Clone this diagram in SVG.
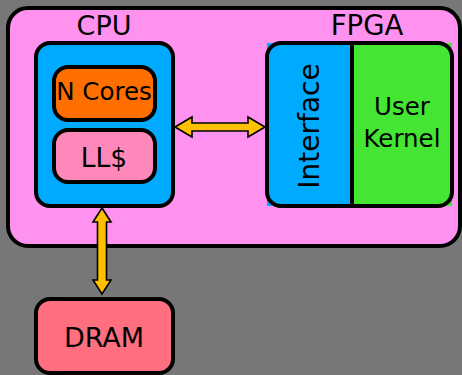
<svg xmlns="http://www.w3.org/2000/svg" width="462" height="375" viewBox="0 0 462 375">
  <style>
    .box { stroke: #000; stroke-width: 4; }
    .lbl { font-family: "DejaVu Sans", sans-serif; fill: #000; text-anchor: middle; }
    .arrow { fill: #ffc000; stroke: #000; stroke-width: 1.6; stroke-linejoin: miter; }
  </style>
  <rect x="0" y="0" width="462" height="375" fill="#777777"/>

  <g id="system">
    <rect class="box" x="8" y="8" width="452" height="238" rx="20" fill="#ff91ef"/>
    <text class="lbl" x="104" y="35" font-size="27">CPU</text>
    <text class="lbl" x="367" y="35" font-size="27.5">FPGA</text>
  </g>

  <g id="cpu">
    <rect class="box" x="36" y="43" width="137" height="163" rx="14" fill="#00aaff"/>
  </g>

  <g id="cores">
    <rect class="box" x="54" y="67" width="101" height="53" rx="14" fill="#ff6f00"/>
    <text class="lbl" x="104" y="100" font-size="24.5">N Cores</text>
  </g>

  <g id="llc">
    <rect class="box" x="54" y="130" width="101" height="52" rx="14" fill="#ff88bb"/>
    <text class="lbl" x="104" y="167" font-size="26.5">LL$</text>
  </g>

  <g id="fpga">
    <rect x="267" y="43" width="85" height="163" fill="#00aaff"/>
    <rect x="352" y="43" width="100" height="163" fill="#44e633"/>
    <rect x="267" y="43" width="185" height="163" rx="14" fill="none" stroke="#000" stroke-width="4"/>
    <line x1="352" y1="43" x2="352" y2="206" stroke="#000" stroke-width="4"/>
  </g>

  <g id="interface">
    <text class="lbl" x="0" y="0" font-size="28" transform="translate(319 126) rotate(-90)">Interface</text>
  </g>

  <g id="kernel">
    <text class="lbl" x="402" y="115" font-size="24.5">User</text>
    <text class="lbl" x="402" y="147" font-size="24.5">Kernel</text>
  </g>

  <g id="dram">
    <rect class="box" x="36" y="299" width="137" height="74" rx="14" fill="#ff6f80"/>
    <text class="lbl" x="104" y="347" font-size="27">DRAM</text>
  </g>

  <g id="connectors">
    <polygon class="arrow" points="175,127 192,117 192,123 248,123 248,117 265,127 248,137 248,131 192,131 192,137"/>
    <polygon class="arrow" points="102,208 111,222 106.5,222 106.5,280 111,280 102,294 93,280 97.5,280 97.5,222 93,222"/>
  </g>
</svg>
